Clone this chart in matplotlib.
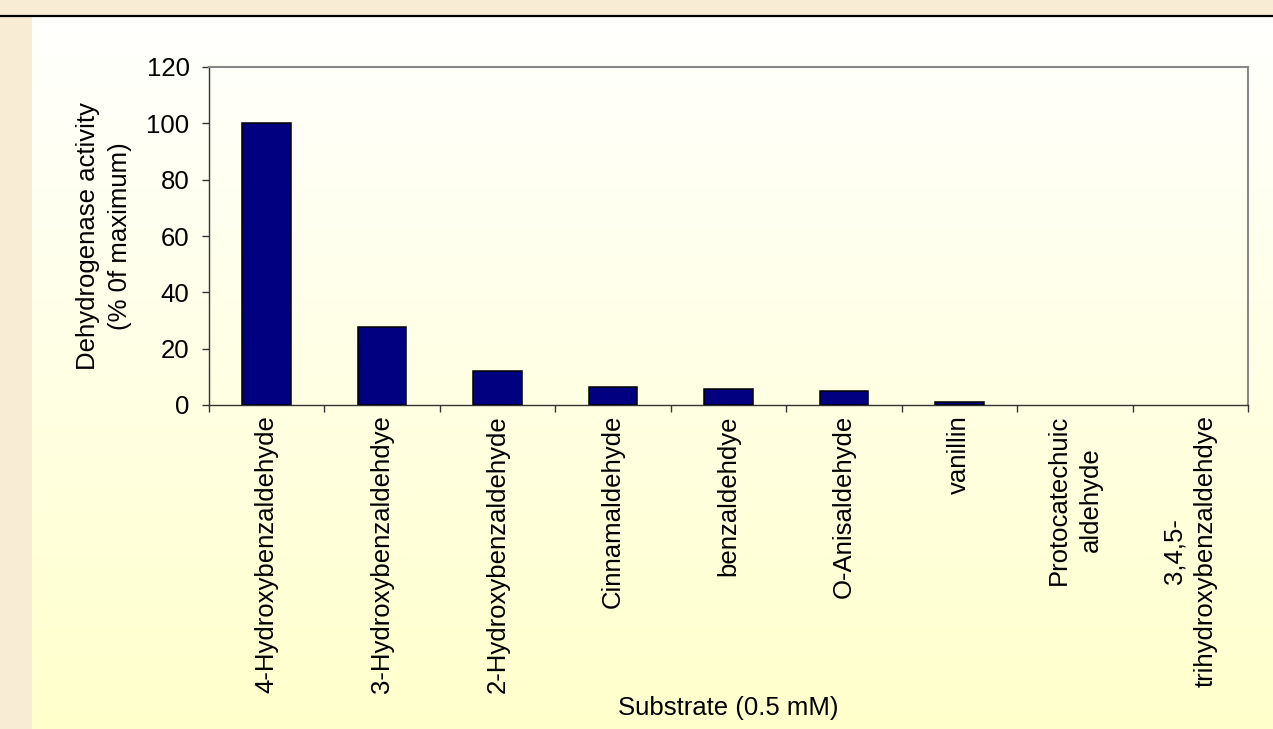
import numpy as np
import matplotlib
matplotlib.use("Agg")
import matplotlib.pyplot as plt

plt.rcParams['font.family'] = ['Liberation Sans', 'DejaVu Sans']

# Substrate specificity of the dehydrogenase
substrates = [
    "4-Hydroxybenzaldehyde",
    "3-Hydroxybenzaldehdye",
    "2-Hydroxybenzaldehyde",
    "Cinnamaldehyde",
    "benzaldehdye",
    "O-Anisaldehyde",
    "vanillin",
    "Protocatechuic\naldehyde",
    "3,4,5-\ntrihydroxybenzaldehdye",
]
activity = [100, 27.8, 12.2, 6.5, 5.8, 5.1, 1.0, 0, 0]
y_ticks = [0, 20, 40, 60, 80, 100, 120]

FS = 18.5
W, H = 1273, 729
fig = plt.figure(figsize=(W / 100, H / 100), dpi=100)

# Background: parchment frame, gradient panel, black rule at the top
bg = fig.add_axes([0, 0, 1, 1])
bg.set_xlim(0, W)
bg.set_ylim(H, 0)
bg.axis("off")
bg.add_patch(plt.Rectangle((0, 0), W, H, color="#f9ecd4", zorder=0))
grad = np.linspace(0, 1, 256)[:, None]
top = np.array([1.0, 1.0, 0.995])
bot = np.array([1.0, 1.0, 0.80])
img = top[None, None, :] * (1 - grad[..., None]) + bot[None, None, :] * grad[..., None]
img = np.repeat(img, 2, axis=1)
bg.imshow(img, extent=[32, W, H, 17], aspect="auto", zorder=1, interpolation="bilinear")
bg.plot([0, W], [16, 16], color="black", lw=1.6, zorder=2, solid_capstyle="butt")

# Main chart
left, right, top_px, bottom_px = 209, 1248, 67, 405
ax = fig.add_axes([left / W, 1 - bottom_px / H, (right - left) / W, (bottom_px - top_px) / H])
ax.patch.set_alpha(0)

x = np.arange(len(substrates))
ax.bar(x, activity, width=0.42, color="#000080", edgecolor="black",
       linewidth=[1.1 if v > 0 else 0 for v in activity], zorder=3)

ax.set_xlim(-0.5, len(substrates) - 0.5)
ax.set_ylim(0, 120)
ax.set_yticks(y_ticks)
ax.set_yticklabels([str(v) for v in y_ticks], fontsize=FS)
ax.tick_params(axis="y", direction="out", length=5, width=1, pad=9, color="#333333")

ax.set_xticks(np.arange(-0.5, len(substrates), 1))
ax.set_xticklabels([])
ax.tick_params(axis="x", direction="out", length=5, width=1, color="#333333")

for i, name in enumerate(substrates):
    ax.annotate(name, xy=(i, 0), xycoords=("data", "axes fraction"),
                xytext=(0, -10), textcoords="offset pixels",
                rotation=90, ha="center", va="top", multialignment="center",
                fontsize=FS, linespacing=1.4)

for s in ("left", "bottom"):
    ax.spines[s].set_color("#333333")
    ax.spines[s].set_linewidth(1.0)
for s in ("top", "right"):
    ax.spines[s].set_color("#888888")
    ax.spines[s].set_linewidth(1.5)

fig.text(104 / W, 1 - 236 / H, "Dehydrogenase activity\n(% 0f maximum)",
         rotation=90, ha="center", va="center", multialignment="center",
         fontsize=FS, linespacing=1.4)
fig.text(728 / W, 1 - 708 / H, "Substrate (0.5 mM)",
         ha="center", va="center", fontsize=FS)

fig.savefig("out.png", dpi=100)
